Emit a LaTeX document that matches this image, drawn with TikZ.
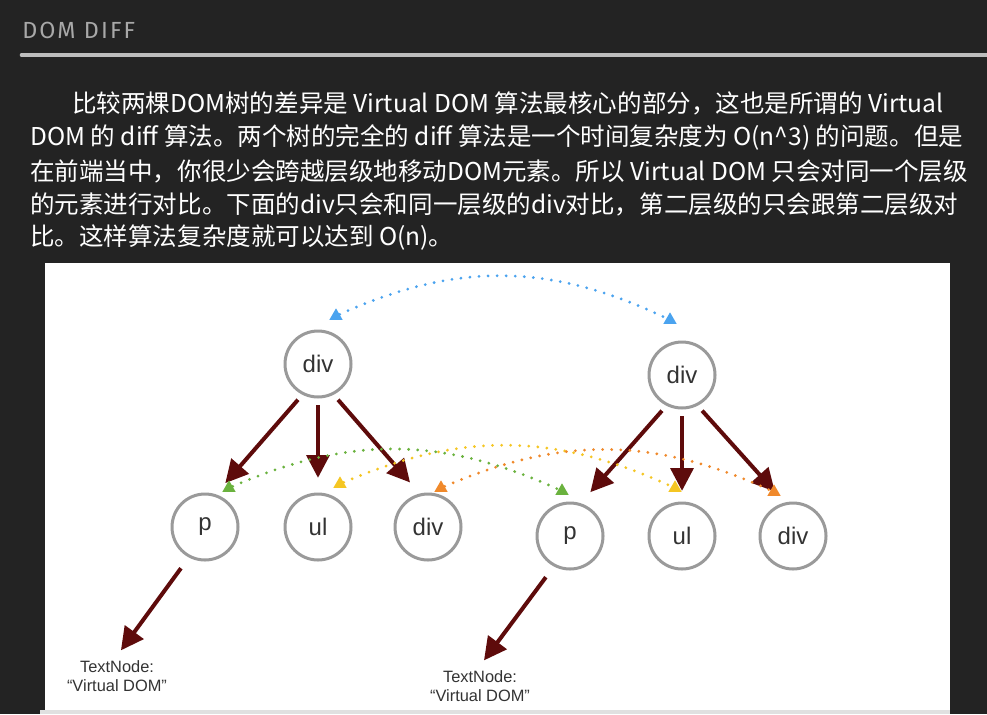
\documentclass[tikz,border=0pt]{standalone}
\usepackage{fontspec}
\setmainfont{Liberation Sans}
\newfontfamily\cjkfont{Noto Sans CJK SC}
\newfontfamily\headfont[LetterSpace=9]{Fira Sans}
\usepackage{xcolor}
\usetikzlibrary{arrows.meta,shapes.geometric}
\definecolor{slidebg}{HTML}{232323}
\definecolor{headgray}{HTML}{A8A8A8}
\definecolor{rulegray}{HTML}{BDBDBD}
\definecolor{ringgray}{HTML}{9A9A9A}
\definecolor{labelgray}{HTML}{333333}
\definecolor{treered}{HTML}{5E0B0B}
\definecolor{syncblue}{HTML}{4AA3EF}
\definecolor{syncgreen}{HTML}{6AB23E}
\definecolor{syncyellow}{HTML}{F5C623}
\definecolor{syncorange}{HTML}{F0892B}

\begin{document}
\begin{tikzpicture}[x=0.75pt,y=-0.75pt,>=Stealth,
  elem/.style={circle,draw=ringgray,line width=2.25pt,minimum size=49.5pt,inner sep=0pt,text=labelgray,font=\fontsize{18}{20}\selectfont},
  link/.style={-{Triangle[length=17pt,width=17pt]},line width=3pt,draw=treered},
  tri/.style={regular polygon,regular polygon sides=3,minimum size=11.5pt,inner sep=0pt,fill=#1},
  sync/.style={draw=#1,line width=2.3pt,line cap=round,dash pattern=on 0pt off 6.8pt},
  txt/.style={anchor=west,text=white,inner sep=0pt,font=\cjkfont\fontsize{18.4}{20}\selectfont}]
 \useasboundingbox (0,0) rectangle (987,714);
 \fill[slidebg] (0,0) rectangle (987,714);
 % title and brushed rule
 \node[anchor=west,inner sep=0pt,text=headgray,font=\headfont\fontsize{17.5}{18}\selectfont] (head) at (22,30) {DOM DIFF};
 \draw[rulegray,line width=3.5pt,line cap=round] (22,55) -- (987,55);
 % paragraph
 \node[txt] (par1) at (72,103) {比较两棵DOM树的差异是 Virtual DOM 算法最核心的部分，这也是所谓的 Virtual};
 \node[txt] (par2) at (30,137) {DOM 的 diff 算法。两个树的完全的 diff 算法是一个时间复杂度为 O(n\textasciicircum 3) 的问题。但是};
 \node[txt] (par3) at (30,171) {在前端当中，你很少会跨越层级地移动DOM元素。所以 Virtual DOM 只会对同一个层级};
 \node[txt] (par4) at (30,204) {的元素进行对比。下面的div只会和同一层级的div对比，第二层级的只会跟第二层级对};
 \node[txt] (par5) at (30,238) {比。这样算法复杂度就可以达到 O(n)。};
 % white panel
 \fill[white] (45,263) rectangle (950,710);
 \fill[black!12] (40,710) rectangle (950,714);

 % old tree
 \node[elem] (div1) at (318,364) {div};
 \node[elem] (p1) at (205,527) {p}; \node[elem] (ul1) at (318,527) {ul}; \node[elem] (dv1) at (428,527) {div};
 \node[align=center,text=labelgray,font=\fontsize{12.3}{14.3}\selectfont] (t1) at (117,676) {TextNode:\\``Virtual DOM''};
 % new tree
 \node[elem] (div2) at (682,375) {div};
 \node[elem] (p2) at (570,536) {p}; \node[elem] (ul2) at (682,536) {ul}; \node[elem] (dv2) at (793,536) {div};
 \node[align=center,text=labelgray,font=\fontsize{12.3}{14.3}\selectfont] (t2) at (480,686) {TextNode:\\``Virtual DOM''};

 \draw[link,shorten <=5pt,shorten >=11pt] (div1.-117) -- (p1.72);
 \draw[link,shorten <=5pt,shorten >=11pt] (div1.south) -- (ul1.north);
 \draw[link,shorten <=5pt,shorten >=11pt] (div1.-63) -- (dv1.104);
 \draw[link,shorten <=5pt,shorten >=11pt] (div2.-117) -- (p2.72);
 \draw[link,shorten <=5pt,shorten >=8pt] (div2.south) -- (ul2.north);
 \draw[link,shorten <=5pt,shorten >=11pt] (div2.-63) -- (dv2.104);
 \draw[link,shorten <=10pt,shorten >=5pt] (p1.-118) -- (t1.north);
 \draw[link,shorten <=10pt,shorten >=5pt] (p2.-118) -- (t2.north);

 % same-level comparisons
 \node[tri=syncblue] (bA) at (336,316) {}; \node[tri=syncblue] (bB) at (670,320) {};
 \node[tri=syncgreen] (gA) at (229,488) {}; \node[tri=syncgreen] (gB) at (562,491) {};
 \node[tri=syncyellow] (yA) at (340,484) {}; \node[tri=syncyellow] (yB) at (675,488) {};
 \node[tri=syncorange] (oA) at (441,488) {}; \node[tri=syncorange] (oB) at (774,492) {};
 \draw[sync=syncblue] (bA) to[bend left=25] (bB);
 \draw[sync=syncgreen] (gA) to[bend left=24] (gB);
 \draw[sync=syncyellow] (yA) to[bend left=24] (yB);
 \draw[sync=syncorange] (oA) to[bend left=24] (oB);
\end{tikzpicture}
\end{document}
